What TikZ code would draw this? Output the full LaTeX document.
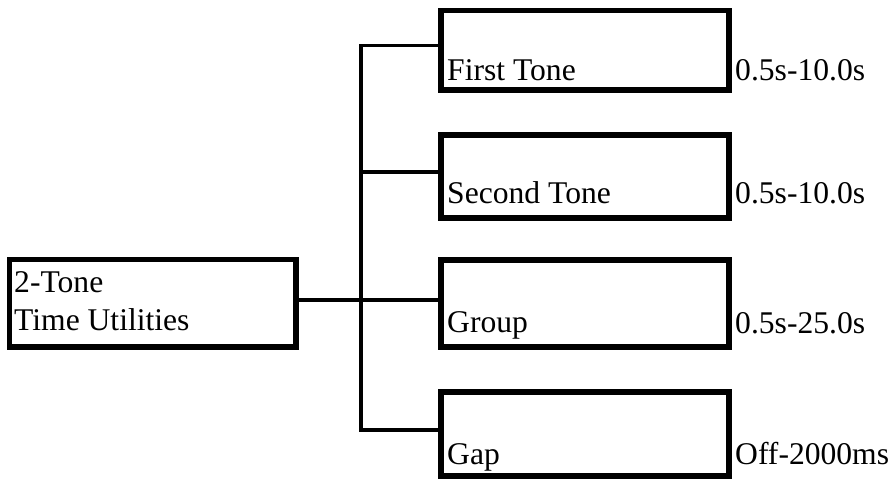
\documentclass[tikz,border=0pt]{standalone}
\usepackage{fontspec}
\setmainfont{Liberation Serif}
\begin{document}
\begin{tikzpicture}[x=1pt,y=-1pt,
  box/.style={draw, line width=5.5pt, inner sep=0pt, outer sep=0pt, anchor=north west,
              minimum width=288pt},
  txt/.style={anchor=base west, inner sep=0pt, font=\fontsize{31.6}{38}\selectfont},
  conn/.style={line width=3.6pt}]
\useasboundingbox (0,0) rectangle (890,479);
% boxes
\node[box, minimum width=286.5pt, minimum height=87.5pt] (L) at (9.5,259.5) {};
\node[box, minimum height=79.5pt] (b1) at (441,10.5) {};
\node[box, minimum height=83pt] (b2) at (441,135) {};
\node[box, minimum height=87pt] (b3) at (441,260) {};
\node[box, minimum height=84pt] (b4) at (441,392) {};
% texts
\node[txt] (Lt1) at (14,292) {2-Tone};
\node[txt] (Lt2) at (14,330) {Time Utilities};
\node[txt] (t1) at (447,80) {First Tone};
\node[txt] (t2) at (447,203) {Second Tone};
\node[txt] (t3) at (447,332) {Group};
\node[txt] (t4) at (447,464) {Gap};
% range labels
\node[txt] (r1) at (735,80) {0.5s-10.0s};
\node[txt] (r2) at (735,203) {0.5s-10.0s};
\node[txt] (r3) at (735,333) {0.5s-25.0s};
\node[txt] (r4) at (735,464) {Off-2000ms};
% connectors
\coordinate (tt) at (361,45.5);
\coordinate (tb) at (361,430);
\draw[conn] (tt -| b1.west) -- (tt) -- (tb) -- (tb -| b4.west);
\draw[conn] ([yshift=4.5pt]b2.west) -- ([yshift=4.5pt]b2.west -| tb);
\draw[conn] ([yshift=3.3pt]L.east) -- ([yshift=3.3pt]L.east -| b3.west);
\end{tikzpicture}
\end{document}
